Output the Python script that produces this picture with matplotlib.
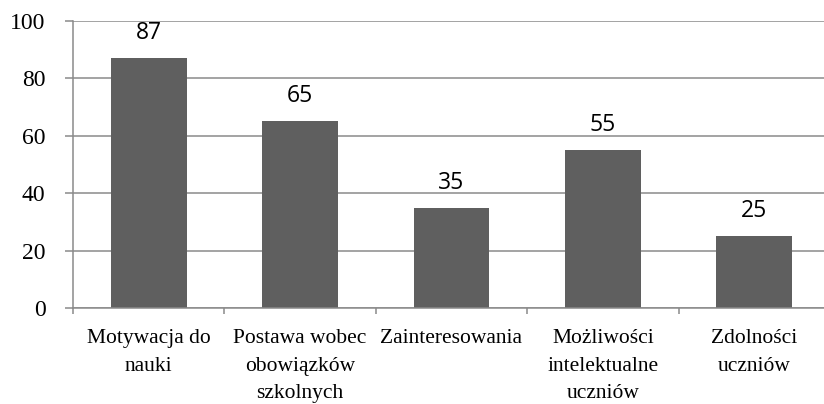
import matplotlib
matplotlib.use("Agg")
import matplotlib.pyplot as plt
import numpy as np

categories = ["Motywacja do\nnauki", "Postawa wobec\nobowiązków\nszkolnych",
              "Zainteresowania", "Możliwości\nintelektualne\nuczniów", "Zdolności\nuczniów"]
values = [87, 65, 35, 55, 25]
yticks = [0, 20, 40, 60, 80, 100]

W, H = 824, 404
fig = plt.figure(figsize=(W/100, H/100), dpi=100)
ax = fig.add_axes([73/W, (H-308)/H, (830-73)/W, 287/H])

grid_c = "#8a8a8a"
x = np.arange(len(values))
ax.bar(x, values, width=0.5, color="#5f5f5f", zorder=3)
ax.set_xlim(-0.5, len(values)-0.5)
ax.set_ylim(0, 100)
ax.set_yticks(yticks)
ax.set_yticklabels([str(t) for t in yticks], family="Liberation Serif", fontsize=17)
ax.yaxis.grid(True, color=grid_c, linewidth=1.1, zorder=0)
ax.tick_params(axis="y", length=5.8, width=1.1, color=grid_c, pad=14)

ax.set_xticks(x)
ax.set_xticklabels(categories, family="Liberation Serif", fontsize=15.5, linespacing=1.62)
ax.tick_params(axis="x", which="major", length=0, pad=15)
ax.set_xticks(np.arange(len(values)+1) - 0.5, minor=True)
ax.tick_params(axis="x", which="minor", length=4.5, width=1.1, color=grid_c)

for s in ["top", "right"]:
    ax.spines[s].set_visible(False)
for s in ["left", "bottom"]:
    ax.spines[s].set_color(grid_c)
    ax.spines[s].set_linewidth(1.1)
    ax.spines[s].set_zorder(4)

for xi, v in zip(x, values):
    ax.annotate(str(v), (xi, v), xytext=(0, 19), textcoords="offset pixels",
                ha="center", va="baseline", family="Open Sans", fontsize=16.5, color="black")

fig.savefig("out.png", dpi=100)
